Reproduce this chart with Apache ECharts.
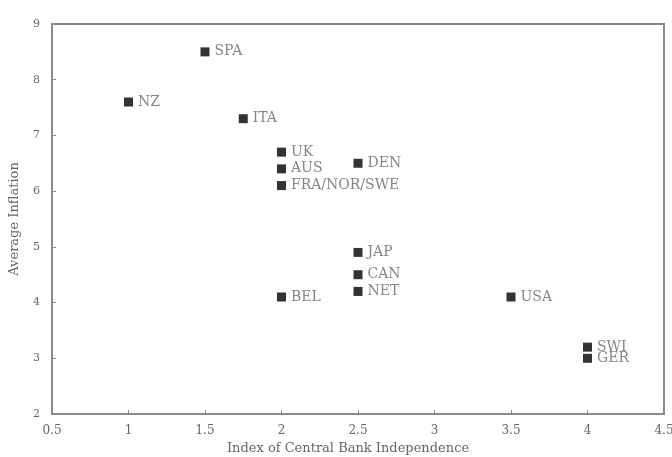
<!DOCTYPE html>
<html>
<head>
<meta charset="utf-8">
<script src="https://cdn.jsdelivr.net/npm/echarts@6/dist/echarts.min.js"></script>
<style>
  html, body { margin: 0; padding: 0; background: #fff; }
  #chart { width: 672px; height: 457px; }
</style>
</head>
<body>
<div id="chart"></div>
<script>
// Countries, central bank independence index, and average inflation
const countries = ['SPA', 'NZ', 'ITA', 'UK', 'AUS', 'FRA/NOR/SWE', 'DEN', 'JAP', 'CAN', 'NET', 'BEL', 'USA', 'SWI', 'GER'];
const independence = [1.5, 1.0, 1.75, 2.0, 2.0, 2.0, 2.5, 2.5, 2.5, 2.5, 2.0, 3.5, 4.0, 4.0];
const inflation = [8.5, 7.6, 7.3, 6.7, 6.4, 6.1, 6.5, 4.9, 4.5, 4.2, 4.1, 4.1, 3.2, 3.0];

const xTicks = [0.5, 1, 1.5, 2, 2.5, 3, 3.5, 4, 4.5];
const yTicks = [2, 3, 4, 5, 6, 7, 8, 9];

const points = countries.map((c, i) => ({ name: c, value: [independence[i], inflation[i]] }));

const serif = '"DejaVu Serif", "Liberation Serif", serif';
const axisGray = '#8a8a8a';
const textGray = '#666';

const chart = echarts.init(document.getElementById('chart'));
chart.setOption({
  backgroundColor: '#fff',
  animation: false,
  grid: {
    left: 52, right: 8, top: 24, bottom: 43,
    outerBoundsMode: 'none',
    containLabel: false,
    show: true, borderColor: axisGray, borderWidth: 2
  },
  xAxis: {
    type: 'value',
    min: xTicks[0], max: xTicks[xTicks.length - 1], interval: 0.5,
    name: 'Index of Central Bank Independence',
    nameLocation: 'middle', nameGap: 21,
    nameTextStyle: { fontFamily: serif, fontSize: 13, color: textGray, padding: [0, 20, 0, 0] },
    axisLine: { show: true, lineStyle: { color: axisGray, width: 2 } },
    axisTick: { show: true, inside: true, length: 4, lineStyle: { color: axisGray } },
    axisLabel: { fontFamily: serif, fontSize: 12, color: textGray, margin: 11,
      formatter: v => String(v) },
    splitLine: { show: false }
  },
  yAxis: {
    type: 'value',
    min: yTicks[0], max: yTicks[yTicks.length - 1], interval: 1,
    name: 'Average Inflation',
    nameLocation: 'middle', nameGap: 31,
    nameTextStyle: { fontFamily: serif, fontSize: 13, color: textGray },
    axisLine: { show: true, lineStyle: { color: axisGray, width: 2 } },
    axisTick: { show: true, inside: true, length: 4, lineStyle: { color: axisGray } },
    axisLabel: { fontFamily: serif, fontSize: 11, color: textGray, margin: 12 },
    splitLine: { show: false }
  },
  series: [{
    type: 'scatter',
    data: points,
    symbol: 'rect',
    symbolSize: 9,
    itemStyle: { color: '#000' },
    label: {
      show: true,
      position: 'right',
      distance: 5,
      formatter: p => p.name,
      fontFamily: serif,
      fontSize: 14,
      color: textGray
    }
  }]
});
</script>
</body>
</html>
